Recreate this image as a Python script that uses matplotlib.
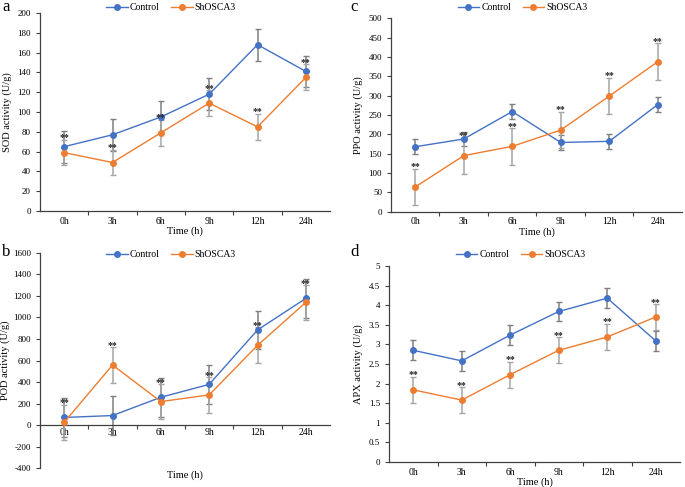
import numpy as np
import matplotlib.pyplot as plt
from matplotlib.ticker import FormatStrFormatter, FixedLocator

plt.rcParams['font.family'] = ['Liberation Serif', 'DejaVu Serif']

# Время отбора проб
times = ['0h', '3h', '6h', '9h', '12h', '24h']

# a - SOD
sod_ctrl = [65, 77, 95, 118, 168, 141]
sod_ctrl_err = [16, 16, 16, 16, 16, 16]
sod_sho = [59, 49, 79, 109, 85, 135]
sod_sho_err = [13, 13, 13, 13, 13, 13]

# b - POD
pod_ctrl = [70, 88, 258, 378, 884, 1178]
pod_ctrl_err = [185, 185, 180, 182, 180, 183]
pod_sho = [25, 558, 218, 280, 741, 1141]
pod_sho_err = [163, 163, 160, 165, 167, 160]

# c - PPO
ppo_ctrl = [168, 188, 259, 179, 182, 277]
ppo_ctrl_err = [19, 19, 19, 19, 19, 19]
ppo_sho = [64, 145, 169, 211, 299, 388]
ppo_sho_err = [47, 47, 47, 47, 47, 48]

# d - APX
apx_ctrl = [2.85, 2.58, 3.24, 3.84, 4.18, 3.09]
apx_ctrl_err = [0.25, 0.25, 0.25, 0.25, 0.25, 0.25]
apx_sho = [1.84, 1.58, 2.23, 2.85, 3.19, 3.70]
apx_sho_err = [0.33, 0.33, 0.33, 0.33, 0.33, 0.32]

c_blue = '#4472C4'
c_orange = '#ED7D31'

fig = plt.figure(figsize=(6.85, 4.87), dpi=100)

# [left, bottom, width, height], ylabel, данные, пределы, шаг, буква
panels = [
    ([0.0584, 0.5667, 0.4234, 0.4066], 'SOD activity (U/g)',
     sod_ctrl, sod_ctrl_err, sod_sho, sod_sho_err, (0, 200), 20, 'a', -0.097, False),
    ([0.5708, 0.5653, 0.4248, 0.3970], 'PPO activity (U/g)',
     ppo_ctrl, ppo_ctrl_err, ppo_sho, ppo_sho_err, (0, 500), 50, 'c', -0.096, False),
    ([0.0584, 0.0390, 0.4234, 0.4415], 'POD activity (U/g)',
     pod_ctrl, pod_ctrl_err, pod_sho, pod_sho_err, (-400, 1600), 200, 'b', -0.103, True),
    ([0.5679, 0.0513, 0.4248, 0.4025], 'APX activity (U/g)',
     apx_ctrl, apx_ctrl_err, apx_sho, apx_sho_err, (0, 5), 0.5, 'd', -0.089, False),
]

x = np.arange(len(times))

for rect, ylab, yc, ec, ys, es, ylim, step, letter, ylx, zero_axis in panels:
    ax = fig.add_axes(rect)
    # планки погрешностей отдельно, чтобы легенда была без них
    ax.errorbar(x, yc, yerr=ec, fmt='none', ecolor='#7f7f7f',
                elinewidth=1.1, capsize=2.5, capthick=1, zorder=2)
    ax.errorbar(x, ys, yerr=es, fmt='none', ecolor='#a6a6a6',
                elinewidth=1.1, capsize=2.5, capthick=1, zorder=2)
    ax.plot(x, yc, color=c_blue, lw=1.0, marker='o', ms=4,
            label='Control', zorder=3)
    ax.plot(x, ys, color=c_orange, lw=1.0, marker='o', ms=4,
            label='ShOSCA3', zorder=3)

    # звёздочки значимости над верхом планки ShOSCA3
    for xi, yi, ei in zip(x, ys, es):
        ax.annotate('**', (xi, yi + ei), xytext=(0, 1.5),
                    textcoords='offset points', ha='center', va='center',
                    fontsize=7, color='#262626', fontweight='bold', zorder=4)

    ax.set_xlim(-0.5, 5.5)
    ax.set_ylim(*ylim)
    ax.set_yticks(np.arange(ylim[0], ylim[1] + step / 2, step))
    ax.yaxis.set_major_formatter(FormatStrFormatter('%g'))
    ax.set_xticks(x)
    ax.set_xticklabels(times)
    ax.xaxis.set_minor_locator(FixedLocator([0.5, 1.5, 2.5, 3.5, 4.5]))
    ax.tick_params(axis='x', which='major', length=0, labelsize=7, pad=4)
    ax.tick_params(axis='x', which='minor', length=3, width=0.8, color='#404040')
    ax.tick_params(axis='y', length=3, width=0.8, labelsize=6.5, color='#404040')

    for s in ['top', 'right']:
        ax.spines[s].set_visible(False)
    for s in ['left', 'bottom']:
        ax.spines[s].set_color('#404040')
        ax.spines[s].set_linewidth(0.9)

    if zero_axis:
        ax.spines['bottom'].set_position(('data', 0))
        ax.tick_params(axis='x', which='major', pad=2)
        off = -5
    else:
        off = -14.5
    ax.annotate('Time (h)', (0.5, 0), xycoords='axes fraction',
                xytext=(0, off), textcoords='offset points',
                ha='center', va='center', fontsize=7.5)

    ax.set_ylabel(ylab, fontsize=7.5)
    ax.yaxis.set_label_coords(ylx, 0.5)

    # легенда над графиком
    bx = rect[0] + (rect[2] * 0.452)
    by = 0.9836 if rect[1] > 0.5 else 0.4764
    fig.legend(*ax.get_legend_handles_labels(), loc='center',
               bbox_to_anchor=(bx, by), ncol=2, frameon=False, fontsize=7,
               handlelength=2.2, handletextpad=0.2, columnspacing=1.2,
               borderaxespad=0)

    fig.text(0.003 if rect[0] < 0.5 else 0.511,
             0.985 if rect[1] > 0.5 else 0.482, letter,
             fontsize=12, ha='left', va='center')

fig.savefig('out.png', dpi=100)
